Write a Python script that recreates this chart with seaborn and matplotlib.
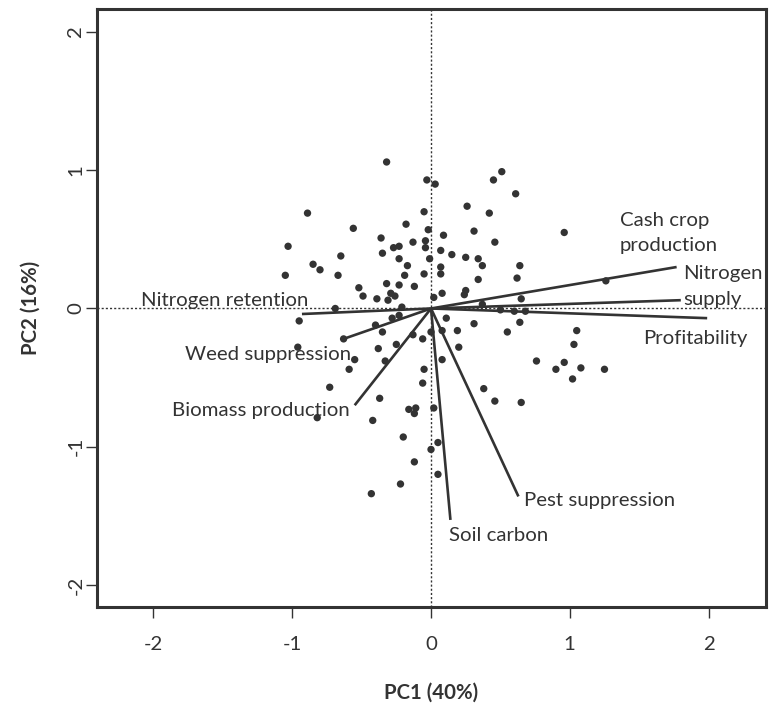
import matplotlib
matplotlib.use("Agg")
import matplotlib.pyplot as plt
import seaborn as sns
import pandas as pd
import numpy as np

# ---- data ----
pc1 = [-0.32, -0.03, 0.03, -0.89, -0.05, -0.56, -0.18, -0.02, -0.36, -1.03,
       -0.27, -0.23, -0.13, -0.04, -0.04, -0.35, -0.65, -0.23, -0.01, -0.85,
       -0.80, -0.17, -1.05, -0.67, -0.19, -0.05, -0.52, -0.32, -0.23, -0.12,
       -0.49, -0.39, -0.29, -0.26, -0.31, 0.02, -0.69, -0.21,
       0.51, 0.45, 0.61, 0.26, 0.42, 0.96, 0.09, 0.31, 0.46, 0.07,
       0.15, 0.25, 0.34, 0.37, 0.64, 0.07, 0.07, 0.34, 0.62, 0.08,
       0.25, 0.24, 0.65, 1.26, 0.37, 0.50, 0.60, 0.68, 0.11,
       -0.95, -0.40, -0.28, -0.23, -0.35, -0.13, -0.06, 0.00, -0.63, -0.96,
       -0.38, -0.25, -0.55, -0.59, -0.33, -0.05, -0.06, -0.73, -0.37, -0.82,
       -0.42, -0.16, -0.11, -0.12, 0.02, -0.20, 0.05, 0.00, -0.12, 0.05,
       -0.22, -0.43,
       0.31, 0.19, 0.08, 0.64, 0.55, 1.05, 1.03, 0.20, 0.08, 0.76,
       0.90, 0.96, 1.08, 1.02, 1.25, 0.38, 0.46, 0.65]
pc2 = [1.06, 0.93, 0.90, 0.69, 0.70, 0.58, 0.61, 0.57, 0.51, 0.45,
       0.44, 0.45, 0.48, 0.49, 0.44, 0.40, 0.38, 0.36, 0.36, 0.32,
       0.28, 0.31, 0.24, 0.24, 0.24, 0.25, 0.15, 0.18, 0.17, 0.16,
       0.09, 0.07, 0.11, 0.09, 0.06, 0.08, 0.00, 0.01,
       0.99, 0.93, 0.83, 0.74, 0.69, 0.55, 0.53, 0.56, 0.48, 0.42,
       0.39, 0.37, 0.36, 0.31, 0.31, 0.30, 0.25, 0.21, 0.22, 0.11,
       0.13, 0.10, 0.07, 0.20, 0.03, -0.01, -0.02, -0.02, -0.07,
       -0.09, -0.12, -0.07, -0.05, -0.17, -0.19, -0.22, -0.17, -0.22, -0.28,
       -0.29, -0.26, -0.37, -0.44, -0.38, -0.44, -0.54, -0.57, -0.65, -0.79,
       -0.81, -0.73, -0.72, -0.76, -0.72, -0.93, -0.97, -1.02, -1.11, -1.20,
       -1.27, -1.34,
       -0.11, -0.16, -0.16, -0.10, -0.17, -0.16, -0.26, -0.28, -0.37, -0.38,
       -0.44, -0.39, -0.43, -0.51, -0.44, -0.58, -0.67, -0.68]

variables = ["Cash crop production", "Nitrogen supply", "Profitability",
             "Nitrogen retention", "Weed suppression", "Biomass production",
             "Pest suppression", "Soil carbon"]
load_x = [1.77, 1.80, 1.99, -0.93, -0.63, -0.55, 0.63, 0.14]
load_y = [0.30, 0.06, -0.07, -0.04, -0.22, -0.70, -1.36, -1.53]

label_texts = ["Cash crop\nproduction", "Nitrogen\nsupply", "Profitability",
               "Nitrogen retention", "Weed suppression", "Biomass production",
               "Pest suppression", "Soil carbon"]
label_x = [1.36, 1.82, 1.53, -2.09, -1.77, -1.87, 0.67, 0.13]
label_y = [0.545, 0.16, -0.22, 0.06, -0.33, -0.74, -1.39, -1.64]

xticks = [-2, -1, 0, 1, 2]
yticks = [-2, -1, 0, 1, 2]
xlabel = "PC1 (40%)"
ylabel = "PC2 (16%)"

# ---- style ----
sns.set_style("white")
plt.rcParams["font.family"] = ["Lato", "DejaVu Sans"]
ink = "#333333"
fs = 14.7

fig = plt.figure(figsize=(7.72, 7.06), dpi=100)
ax = fig.add_axes([97 / 772, 1 - 607 / 706, (766 - 97) / 772, (607 - 9) / 706])

df = pd.DataFrame({"PC1": pc1, "PC2": pc2})

ax.axhline(0, color=ink, lw=1.0, ls=(0, (1.5, 1.5)), zorder=1)
ax.axvline(0, color=ink, lw=1.0, ls=(0, (1.5, 1.5)), zorder=1)

sns.scatterplot(data=df, x="PC1", y="PC2", ax=ax, color=ink, s=28,
                edgecolor="none", zorder=3, legend=False)

for lx, ly in zip(load_x, load_y):
    ax.plot([0, lx], [0, ly], color=ink, lw=1.9, solid_capstyle="butt", zorder=2)

for t, tx, ty in zip(label_texts, label_x, label_y):
    ax.text(tx, ty, t, ha="left", va="center", fontsize=fs, color=ink,
            linespacing=1.6, zorder=4)

ax.set_xlim(-2.407, 2.414)
ax.set_ylim(-2.16, 2.167)
ax.set_xticks(xticks)
ax.set_yticks(yticks)
ax.set_xticklabels([str(v) for v in xticks])
ax.set_yticklabels([str(v) for v in yticks], rotation=90, va="center")
ax.tick_params(axis="both", direction="out", length=8, width=1.0, color=ink,
               labelsize=fs, labelcolor=ink, bottom=True, left=True)
ax.tick_params(axis="x", pad=13)
ax.tick_params(axis="y", pad=1)

for sp in ax.spines.values():
    sp.set_visible(True)
    sp.set_color(ink)
    sp.set_linewidth(2.2)

ax.set_xlabel(xlabel, fontsize=fs, fontweight="bold", color=ink, labelpad=21)
ax.set_ylabel(ylabel, fontsize=fs, fontweight="bold", color=ink, labelpad=19)

fig.savefig("out.png", dpi=100)
